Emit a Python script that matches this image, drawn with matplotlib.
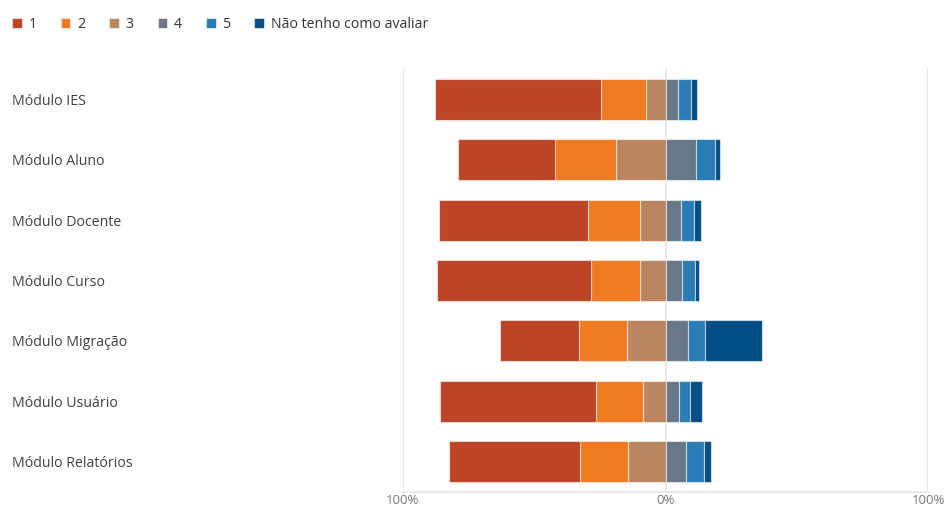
import matplotlib
matplotlib.use("Agg")
import matplotlib.pyplot as plt
import numpy as np

categories = ["Módulo IES", "Módulo Aluno", "Módulo Docente", "Módulo Curso",
              "Módulo Migração", "Módulo Usuário", "Módulo Relatórios"]
series_names = ["1", "2", "3", "4", "5", "Não tenho como avaliar"]
s1 = [63.1, 36.8, 56.8, 58.5, 30.1, 59.3, 49.7]
s2 = [17.4, 23.5, 19.9, 18.7, 18.4, 18.0, 18.4]
s3 = [7.3, 18.7, 9.6, 9.8, 14.6, 8.6, 14.3]
s4 = [4.8, 11.7, 5.8, 6.3, 8.5, 5.1, 7.9]
s5 = [5.0, 7.2, 5.2, 5.1, 6.6, 4.1, 6.9]
sN = [2.1, 1.9, 2.6, 1.5, 21.7, 4.6, 2.7]
xticks = [-100, 0, 100]
xtick_labels = ["100%", "0%", "100%"]

colors = ["#BB4524", "#F07A22", "#BB865F", "#697889", "#2A7DB4", "#044F85"]

plt.rcParams['font.family'] = ['Open Sans', 'DejaVu Sans']

fig = plt.figure(figsize=(9.49, 5.08), dpi=100)
ax = fig.add_axes([402.7 / 949, 16 / 508, (928.3 - 402.7) / 949, (492 - 69) / 508])

y = np.arange(len(categories))
h = 0.68
edge = dict(edgecolor=(1, 1, 1, 0.55), linewidth=0.8)

a1, a2, a3 = np.array(s1), np.array(s2), np.array(s3)
a4, a5, aN = np.array(s4), np.array(s5), np.array(sN)

# negative side: 3 next to zero, then 2, then 1
b3 = ax.barh(y, -a3, left=0, height=h, color=colors[2], zorder=3, **edge)
b2 = ax.barh(y, -a2, left=-a3, height=h, color=colors[1], zorder=3, **edge)
b1 = ax.barh(y, -a1, left=-(a3 + a2), height=h, color=colors[0], zorder=3, **edge)
b4 = ax.barh(y, a4, left=0, height=h, color=colors[3], zorder=3, **edge)
b5 = ax.barh(y, a5, left=a4, height=h, color=colors[4], zorder=3, **edge)
bN = ax.barh(y, aN, left=a4 + a5, height=h, color=colors[5], zorder=3, **edge)
handles = [b1, b2, b3, b4, b5, bN]

ax.set_xlim(-100, 100)
ax.set_ylim(len(categories) - 0.5, -0.5)

for xv in xticks:
    ax.axvline(xv, color="#E3E3E3", linewidth=1.1, zorder=0)

for sp in ["top", "left", "right"]:
    ax.spines[sp].set_visible(False)
ax.spines["bottom"].set_color("#E3E3E3")
ax.spines["bottom"].set_linewidth(1.1)

ax.set_xticks(xticks)
ax.set_xticklabels(xtick_labels, color="#7A7A7A", fontsize=9.5)
ax.tick_params(axis="x", length=0, pad=1.5)

ax.set_yticks(y)
ax.set_yticklabels(categories, color="#404040", fontsize=10.2, ha="left")
ax.tick_params(axis="y", length=0, pad=(402.7 - 12) * 72 / 100)

leg = fig.legend(handles, series_names, loc="center left",
                 bbox_to_anchor=(12 / 949, 1 - 24 / 508), ncol=6, frameon=False,
                 fontsize=10.2, handlelength=0.7, handleheight=0.7,
                 handletextpad=0.45, columnspacing=1.7, borderaxespad=0,
                 borderpad=0)
for t in leg.get_texts():
    t.set_color("#333333")

fig.savefig("out.png", dpi=100)
